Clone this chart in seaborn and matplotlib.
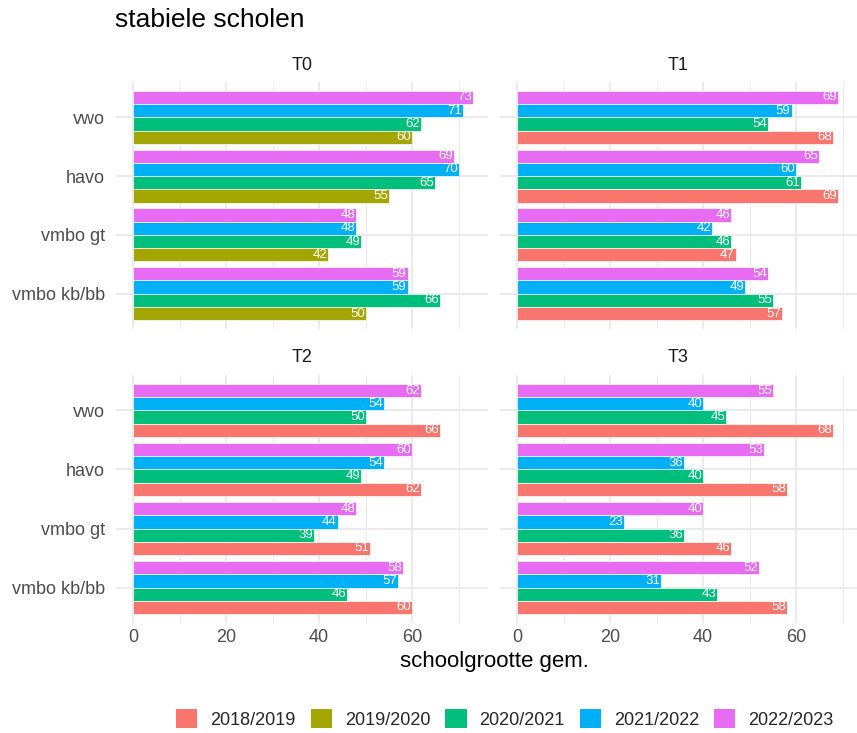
import matplotlib
matplotlib.use("Agg")
import matplotlib.pyplot as plt
from matplotlib.patches import Patch
from matplotlib.ticker import MultipleLocator
import pandas as pd
import seaborn as sns

# data: gemiddelde schoolgrootte per schooltype, per meetmoment en schooljaar
categories = ["vwo", "havo", "vmbo gt", "vmbo kb/bb"]
years = ["2018/2019", "2019/2020", "2020/2021", "2021/2022", "2022/2023"]
colors = ["#F8766D", "#A3A500", "#00BF7D", "#00B0F6", "#E76BF3"]

t0 = {
    "2019/2020": [60, 55, 42, 50],
    "2020/2021": [62, 65, 49, 66],
    "2021/2022": [71, 70, 48, 59],
    "2022/2023": [73, 69, 48, 59],
}
t1 = {
    "2018/2019": [68, 69, 47, 57],
    "2020/2021": [54, 61, 46, 55],
    "2021/2022": [59, 60, 42, 49],
    "2022/2023": [69, 65, 46, 54],
}
t2 = {
    "2018/2019": [66, 62, 51, 60],
    "2020/2021": [50, 49, 39, 46],
    "2021/2022": [54, 54, 44, 57],
    "2022/2023": [62, 60, 48, 58],
}
t3 = {
    "2018/2019": [68, 58, 46, 58],
    "2020/2021": [45, 40, 36, 43],
    "2021/2022": [40, 36, 23, 31],
    "2022/2023": [55, 53, 40, 52],
}
panels = {"T0": t0, "T1": t1, "T2": t2, "T3": t3}

rows = []
for panel, series in panels.items():
    for year, vals in series.items():
        for cat, v in zip(categories, vals):
            rows.append((panel, cat, year, v))
df = pd.DataFrame(rows, columns=["tijdstip", "schooltype", "jaar", "schoolgrootte"])

sns.set_theme(style="white")
plt.rcParams["font.family"] = ["Liberation Sans", "DejaVu Sans"]

palette = dict(zip(years, colors))
W, H = 857, 733
fig = plt.figure(figsize=(W / 100, H / 100), dpi=100)

# panel boxes in pixels: left, top, right, bottom
boxes = {
    "T0": (116, 82, 488, 329),
    "T1": (500, 82, 857, 329),
    "T2": (116, 375, 488, 623),
    "T3": (500, 375, 857, 623),
}
px_per_unit = 372 / 79.95

for i, (panel, (l, t, r, b)) in enumerate(boxes.items()):
    ax = fig.add_axes([l / W, 1 - b / H, (r - l) / W, (b - t) / H])
    sub = df[df["tijdstip"] == panel]
    present = [y for y in years if y in set(sub["jaar"])]
    hue_order = present[::-1]
    sns.barplot(data=sub, x="schoolgrootte", y="schooltype", hue="jaar",
                order=categories, hue_order=hue_order, palette=palette,
                orient="h", width=0.9, saturation=1, edgecolor="white",
                linewidth=0.5, legend=False, ax=ax)

    for cont in ax.containers:
        for bar in cont:
            w = bar.get_width()
            ax.text(w - 0.2, bar.get_y() + bar.get_height() / 2, f"{w:.0f}",
                    ha="right", va="center", color="white", fontsize=9.5)

    ax.set_xlim(-3.65, -3.65 + (r - l) / px_per_unit)
    ax.set_ylim(3.6, -0.6)
    ax.xaxis.set_major_locator(MultipleLocator(20))
    ax.xaxis.set_minor_locator(MultipleLocator(10))
    ax.set_axisbelow(True)
    ax.grid(which="major", color="#EBEBEB", linewidth=1.4)
    ax.grid(which="minor", axis="x", color="#EBEBEB", linewidth=0.7)
    for s in ax.spines.values():
        s.set_visible(False)
    ax.set_xlabel("")
    ax.set_ylabel("")
    ax.tick_params(axis="both", which="both", length=0, labelsize=13,
                   labelcolor="#4D4D4D")
    ax.tick_params(axis="x", pad=4)
    ax.tick_params(axis="y", pad=8)
    if i < 2:
        ax.tick_params(axis="x", labelbottom=False)
    if i % 2 == 1:
        ax.tick_params(axis="y", labelleft=False)
    ax.set_title(panel, fontsize=13, color="#1A1A1A", pad=9)

fig.text(115 / W, 1 - 20 / H, "stabiele scholen", fontsize=19, color="black",
         ha="left", va="center")
fig.text(494 / W, 1 - 662 / H, "schoolgrootte gem.", fontsize=16,
         color="black", ha="center", va="center")

handles = [Patch(facecolor=palette[y], edgecolor="none", label=y) for y in years]
fig.legend(handles=handles, loc="center", bbox_to_anchor=(505 / W, 1 - 719 / H),
           ncol=5, frameon=False, fontsize=13, handlelength=1.17,
           handleheight=1.17, handletextpad=0.72, columnspacing=0.83)

fig.savefig("out.png", dpi=100)
